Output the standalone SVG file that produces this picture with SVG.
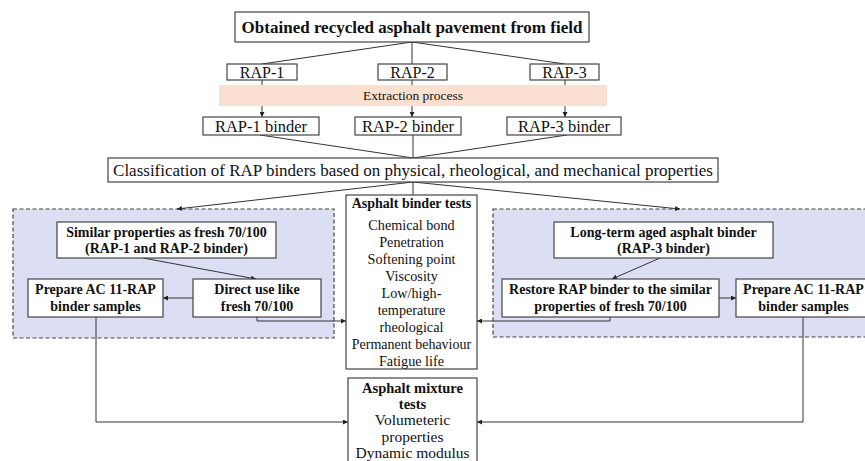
<svg xmlns="http://www.w3.org/2000/svg" width="865" height="461" viewBox="0 0 865 461">
<defs>
<marker id="ah" viewBox="0 0 10 10" refX="10" refY="5" markerWidth="5" markerHeight="5" markerUnits="userSpaceOnUse" orient="auto">
<path d="M0,0 L10,5 L0,10 Z" fill="#222"/>
</marker>
<style>
.bx{fill:#fff;stroke:#444;stroke-width:1.2}
.dash{fill:#dcdef4;stroke:#444;stroke-width:1.2;stroke-dasharray:4 2.5}
.ln{fill:none;stroke:#333;stroke-width:1}
.ar{fill:none;stroke:#333;stroke-width:1;marker-end:url(#ah)}
text{font-family:"Liberation Serif","Times New Roman",serif;fill:#111;text-anchor:middle}
.b{font-weight:bold}
</style>
</defs>
<rect width="865" height="461" fill="#fff"/>

<g id="group-left"><rect class="dash" x="13" y="209" width="321" height="129"/></g>
<g id="group-right"><rect class="dash" x="493" y="209" width="380" height="128"/></g>

<g id="connectors">
<path class="ln" d="M412,42 L262,64 M412,42 L412,64 M412,42 L565,64"/>
<path class="ar" d="M262,80 L262,117"/>
<path class="ar" d="M412,80 L412,117"/>
<path class="ar" d="M565,80 L565,117"/>
<path class="ln" d="M260,135 L413,158 M413,135 L413,158 M567,135 L413,158"/>
<path class="ar" d="M413,182 L177,209"/>
<path class="ar" d="M413,182 L680,209"/>
<path class="ln" d="M413,182 L413,195"/>
<path class="ar" d="M143,258 L256,279"/>
<path class="ar" d="M193,298 L163,298"/>
<path class="ar" d="M257,317 L257,321 L346,321"/>
<path class="ar" d="M96,317 L96,422 L348,422"/>
<path class="ar" d="M660,258 L612,279"/>
<path class="ar" d="M719,298 L736,298"/>
<path class="ar" d="M610,317 L610,321 L477,321"/>
<path class="ar" d="M803,317 L803,422 L477,422"/>
</g>

<g id="extraction">
<rect x="219" y="85" width="388" height="21" fill="#fbe0cf"/>
<text x="413" y="100" font-size="13.5">Extraction process</text>
</g>

<g id="top"><rect class="bx" x="235" y="12" width="354" height="30"/>
<text class="b" x="412" y="33" font-size="17">Obtained recycled asphalt pavement from field</text></g>

<g id="rap1"><rect class="bx" x="227" y="64" width="70" height="16"/><text x="262" y="78" font-size="16">RAP-1</text></g>
<g id="rap2"><rect class="bx" x="378" y="64" width="69" height="16"/><text x="412.5" y="78" font-size="16">RAP-2</text></g>
<g id="rap3"><rect class="bx" x="530" y="64" width="69" height="16"/><text x="564.5" y="78" font-size="16">RAP-3</text></g>

<g id="rap1b"><rect class="bx" x="203" y="117" width="116" height="18"/><text x="261" y="132" font-size="16.5">RAP-1 binder</text></g>
<g id="rap2b"><rect class="bx" x="355" y="117" width="106" height="18"/><text x="408" y="132" font-size="16.5">RAP-2 binder</text></g>
<g id="rap3b"><rect class="bx" x="507" y="117" width="114" height="18"/><text x="564" y="132" font-size="16.5">RAP-3 binder</text></g>

<g id="classification"><rect class="bx" x="108" y="158" width="610" height="24"/>
<text x="413" y="176" font-size="17">Classification of RAP binders based on physical, rheological, and mechanical properties</text></g>

<g id="binder-tests"><rect class="bx" x="346" y="195" width="131" height="174"/>
<text class="b" x="411.5" y="208" font-size="14">Asphalt binder tests</text>
<text x="411.5" y="230" font-size="14.2">Chemical bond</text>
<text x="411.5" y="247" font-size="14.2">Penetration</text>
<text x="411.5" y="264" font-size="14.2">Softening point</text>
<text x="411.5" y="281" font-size="14.2">Viscosity</text>
<text x="411.5" y="298" font-size="14.2">Low/high-</text>
<text x="411.5" y="315" font-size="14.2">temperature</text>
<text x="411.5" y="332" font-size="14.2">rheological</text>
<text x="411.5" y="349" font-size="14">Permanent behaviour</text>
<text x="411.5" y="366" font-size="14.2">Fatigue life</text></g>

<g id="mixture-tests"><rect class="bx" x="348" y="378" width="129" height="100"/>
<text class="b" x="412.5" y="393" font-size="14.5">Asphalt mixture</text>
<text class="b" x="412.5" y="409" font-size="14.5">tests</text>
<text x="412.5" y="425" font-size="15.5">Volumeteric</text>
<text x="412.5" y="442" font-size="15.5">properties</text>
<text x="412.5" y="458" font-size="15.5">Dynamic modulus</text></g>

<g id="similar"><rect class="bx" x="57" y="222" width="219" height="36"/>
<text class="b" x="166.5" y="237" font-size="14">Similar properties as fresh 70/100</text>
<text class="b" x="166.5" y="253" font-size="14">(RAP-1 and RAP-2 binder)</text></g>

<g id="prepare-left"><rect class="bx" x="28" y="279" width="135" height="38"/>
<text class="b" x="95.5" y="294" font-size="14">Prepare AC 11-RAP</text>
<text class="b" x="95.5" y="311" font-size="14">binder samples</text></g>

<g id="direct"><rect class="bx" x="193" y="279" width="128" height="38"/>
<text class="b" x="257" y="294" font-size="14">Direct use like</text>
<text class="b" x="257" y="311" font-size="14">fresh 70/100</text></g>

<g id="longterm"><rect class="bx" x="554" y="222" width="219" height="36"/>
<text class="b" x="663.5" y="237" font-size="14">Long-term aged asphalt binder</text>
<text class="b" x="663.5" y="253" font-size="14">(RAP-3 binder)</text></g>

<g id="restore"><rect class="bx" x="502" y="279" width="217" height="38"/>
<text class="b" x="610.5" y="294" font-size="14">Restore RAP binder to the similar</text>
<text class="b" x="610.5" y="311" font-size="14">properties of fresh 70/100</text></g>

<g id="prepare-right"><rect class="bx" x="736" y="279" width="135" height="38"/>
<text class="b" x="803.5" y="294" font-size="14">Prepare AC 11-RAP</text>
<text class="b" x="803.5" y="311" font-size="14">binder samples</text></g>
</svg>
